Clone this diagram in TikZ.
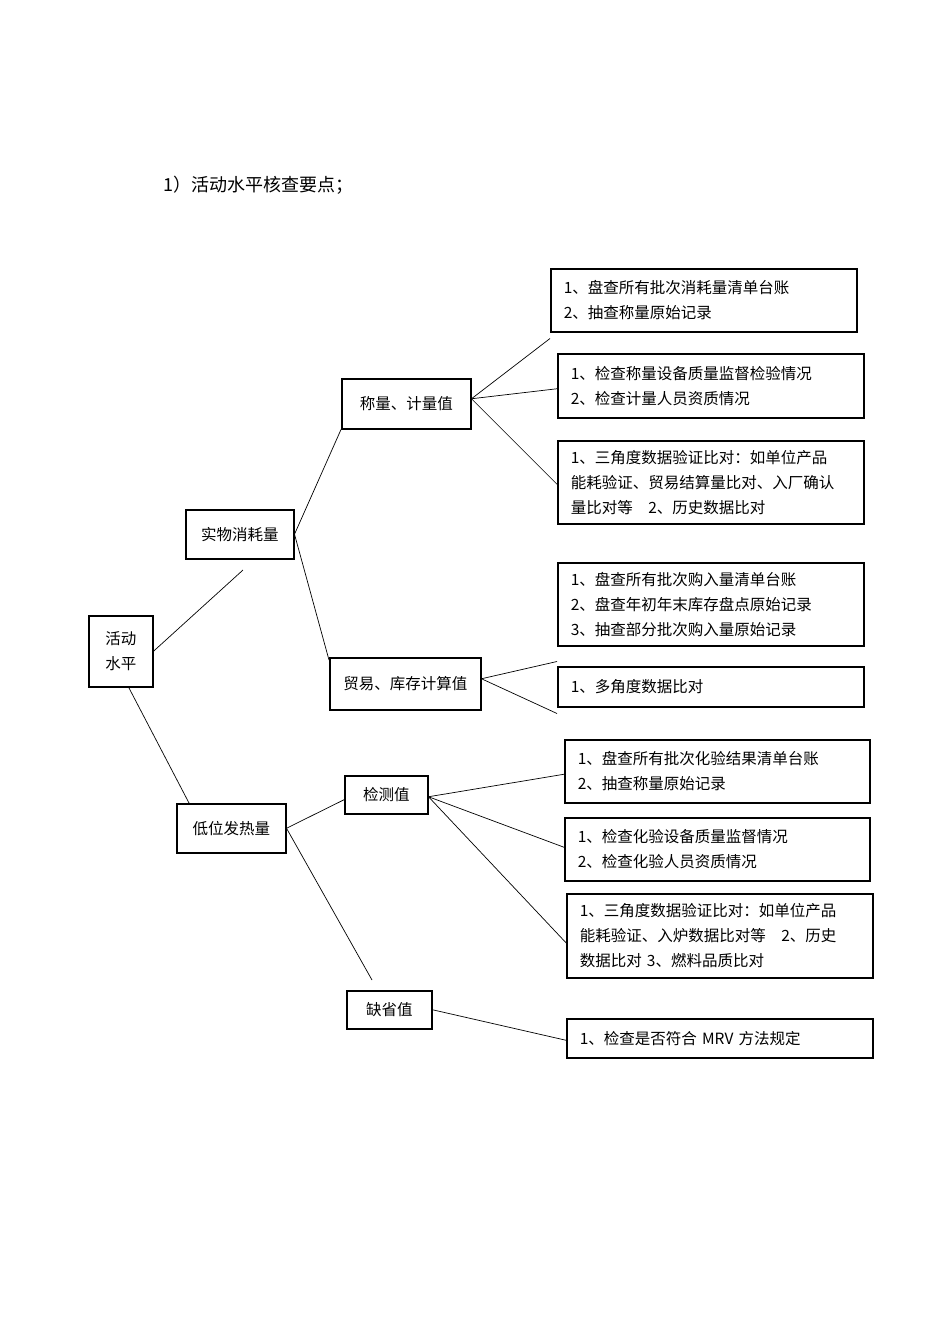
\documentclass[tikz,border=0pt]{standalone}
\usepackage{fontspec}
\setmainfont{Noto Sans CJK SC}
\begin{document}
\begin{tikzpicture}[x=1pt,y=-1pt,
  box/.style={draw,line width=1.5pt,anchor=north west,inner sep=0pt,align=left,font=\fontsize{15.5}{25}\selectfont},
  ln/.style={line width=0.7pt}]
\useasboundingbox (0,0) rectangle (950,1344);
\newcommand\bx[6]{\pgfmathsetlengthmacro\bw{#4-#2}\pgfmathsetlengthmacro\bh{#5-#3}\pgfmathsetlengthmacro\tw{#4-#2-26}%
\node[box,minimum width=\bw,minimum height=\bh,text width=\tw] (#1) at (#2,#3) {#6};}
\newcommand\cb[6]{\pgfmathsetlengthmacro\bw{#4-#2}\pgfmathsetlengthmacro\bh{#5-#3}%
\node[box,minimum width=\bw,minimum height=\bh,align=center] (#1) at (#2,#3) {#6};}
\node[anchor=west,font=\fontsize{18}{22}\selectfont] (title) at (160,185) {1）活动水平核查要点；};
\cb{root}{88}{615}{152}{686}{活动\\水平}
\cb{sw}{185}{509}{293}{558}{实物消耗量}
\cb{cl}{341}{378}{470}{428}{称量、计量值}
\cb{my}{329}{657}{480}{709}{贸易、库存计算值}
\cb{dw}{176}{803}{285}{852}{低位发热量}
\cb{jc}{344}{775}{427}{813}{检测值}
\cb{qs}{346}{990}{431}{1028}{缺省值}
\bx{a1}{550}{268}{856}{331}{1、盘查所有批次消耗量清单台账\\2、抽查称量原始记录}
\bx{a2}{557}{353}{863}{417}{1、检查称量设备质量监督检验情况\\2、检查计量人员资质情况}
\bx{a3}{557}{440}{863}{523}{1、三角度数据验证比对：如单位产品\\能耗验证、贸易结算量比对、入厂确认\\量比对等\quad 2、历史数据比对}
\bx{b1}{557}{562}{863}{645}{1、盘查所有批次购入量清单台账\\2、盘查年初年末库存盘点原始记录\\3、抽查部分批次购入量原始记录}
\bx{b2}{557}{666}{863}{706}{1、多角度数据比对}
\bx{c1}{564}{739}{869}{802}{1、盘查所有批次化验结果清单台账\\2、抽查称量原始记录}
\bx{c2}{564}{817}{869}{880}{1、检查化验设备质量监督情况\\2、检查化验人员资质情况}
\bx{c3}{566}{893}{872}{977}{1、三角度数据验证比对：如单位产品\\能耗验证、入炉数据比对等\quad 2、历史\\数据比对\ 3、燃料品质比对}
\bx{d1}{566}{1018}{872}{1057}{1、检查是否符合 MRV 方法规定}
\coordinate (f1) at (243,570);
\coordinate (f2) at (372,980);
\draw[ln] (root.east) -- (f1);
\draw[ln] ([xshift=8]root.south) -- ([xshift=13]dw.north west);
\draw[ln] (sw.east) -- (cl.south west);
\draw[ln] (sw.east) -- ([yshift=-3]my.north west);
\draw[ln] ([yshift=5]cl.east) -- ([yshift=-6]a1.south west);
\draw[ln] ([yshift=5]cl.east) -- ([yshift=-3]a2.west);
\draw[ln] ([yshift=5]cl.east) -- ([yshift=-2]a3.west);
\draw[ln] ([yshift=5]my.east) -- ([yshift=-15]b1.south west);
\draw[ln] ([yshift=5]my.east) -- ([yshift=-6]b2.south west);
\draw[ln] (dw.east) -- ([yshift=-5]jc.west);
\draw[ln] (dw.east) -- (f2);
\draw[ln] ([yshift=-2]jc.east) -- ([yshift=-3]c1.west);
\draw[ln] ([yshift=-2]jc.east) -- ([yshift=2]c2.west);
\draw[ln] ([yshift=-2]jc.east) -- ([yshift=-7]c3.west);
\draw[ln] (qs.east) -- ([yshift=-2]d1.west);
\end{tikzpicture}
\end{document}
